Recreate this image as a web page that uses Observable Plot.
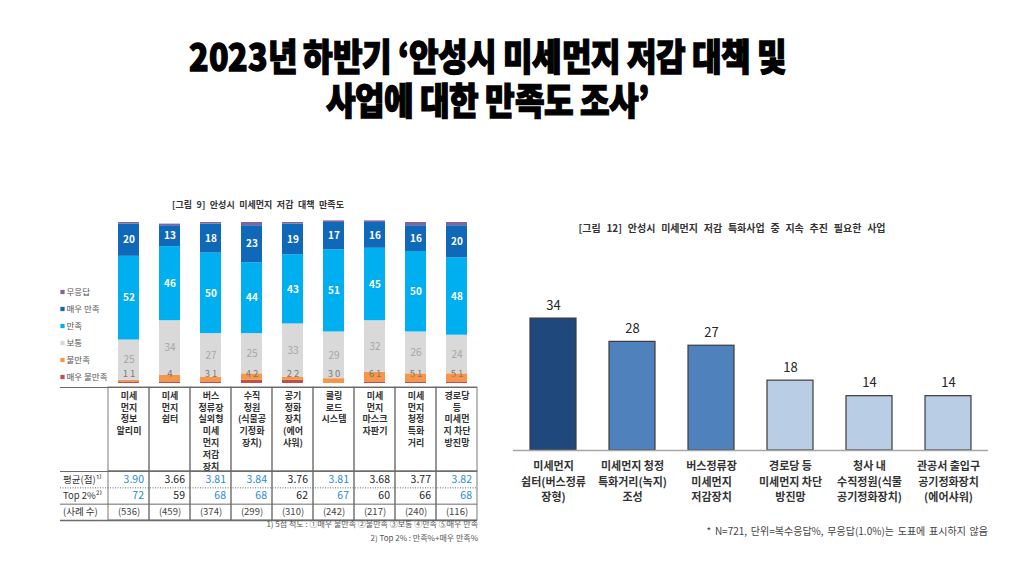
<!DOCTYPE html>
<html><head><meta charset="utf-8">
<script src="https://cdn.jsdelivr.net/npm/d3@7"></script>
<script src="https://cdn.jsdelivr.net/npm/@observablehq/plot@0.6"></script>
<style>
@font-face{font-family:"TitleKR";src:local("Noto Sans CJK KR Black"),local("NotoSansCJKkr-Black"),local("Noto Sans CJK KR Bold"),local("NotoSansCJKkr-Bold");ascent-override:88%;descent-override:12%;line-gap-override:0%;}
html,body{margin:0;padding:0;background:#fff;}
body{width:1024px;height:576px;position:relative;overflow:hidden;font-family:"Noto Sans CJK KR","Noto Sans",sans-serif;}
.abs{position:absolute;}
.title{left:0;width:975px;height:42px;text-align:center;font-family:"TitleKR","Noto Sans CJK KR",sans-serif;font-weight:900;font-size:37px;line-height:42px;color:#000;letter-spacing:-0.4px;transform:scaleX(0.87);transform-origin:487.5px 0;-webkit-text-stroke:1.3px #000;white-space:nowrap;}
.ctitle{font-weight:700;color:#333;white-space:nowrap;text-align:center;}
.note{color:#555;white-space:nowrap;text-align:right;}
</style></head><body>
<div class="abs title" style="top:36px;">2023년 하반기 ‘안성시 미세먼지 저감 대책 및</div>
<div class="abs title" style="top:80px;">사업에 대한 만족도 조사’</div>
<div class="abs ctitle" style="left:158px;width:200px;top:198px;font-size:9px;word-spacing:2.5px;">[그림 9] 안성시 미세먼지 저감 대책 만족도</div>
<div class="abs ctitle" style="left:532px;width:400px;top:220px;font-size:10px;word-spacing:3.5px;">[그림 12] 안성시 미세먼지 저감 특화사업 중 지속 추진 필요한 사업</div>
<div id="barA" class="abs" style="left:60px;top:195px;"></div>
<div id="legA" class="abs" style="left:58px;top:282px;"></div>
<div id="tabH" class="abs" style="left:60px;top:386px;"></div>
<div id="tabR" class="abs" style="left:60px;top:470px;"></div>
<div class="abs note" style="right:546px;top:518px;font-size:8px;">1) 5점 척도 : ①매우 불만족 ②불만족 ③보통 ④만족 ⑤매우 만족</div>
<div class="abs note" style="right:546px;top:532px;font-size:8px;">2) Top 2% : 만족%+매우 만족%</div>
<div id="barB" class="abs" style="left:500px;top:200px;"></div>
<div class="abs note" style="right:36px;top:523px;font-size:10px;word-spacing:1.5px;color:#444;">* N=721, 단위=복수응답%, 무응답(1.0%)는 도표에 표시하지 않음</div>
<script>
// ---------- Data: 그림 9 ----------
const satCats = ["미세먼지 정보알리미","미세먼지 쉼터","버스정류장 실외형 미세먼지 저감장치","수직정원(식물공기정화장치)","공기정화장치(에어샤워)","쿨링로드 시스템","미세먼지 마스크 자판기","미세먼지 청정특화거리","경로당 등 미세먼지 차단 방진망"];
const tableHeaders = ["미세\n먼지\n정보\n알리미","미세\n먼지\n쉼터","버스\n정류장\n실외형\n미세\n먼지\n저감\n장치","수직\n정원\n(식물공\n기정화\n장치)","공기\n정화\n장치\n(에어\n샤워)","쿨링\n로드\n시스템","미세\n먼지\n마스크\n자판기","미세\n먼지\n청정\n특화\n거리","경로당\n등\n미세먼\n지 차단\n방진망"];
const levelsStack = ["매우 불만족","불만족","보통","만족","매우 만족","무응답"];
const veryDissat = [1,1,1,2,2,0,1,1,1];
const dissat     = [1,4,3,4,2,3,6,5,5];
const neutral    = [25,34,27,25,33,29,32,26,24];
const sat        = [52,46,50,44,43,51,45,50,48];
const verySat    = [20,13,18,23,19,17,16,16,20];
const noAnswer   = [1,1,1,2,1,1,1,2,2];
const smallLabels = ["1 1","4","3 1","4 2","2 2","3 0","6 1","5 1","5 1"];
const rowLabels = ["평균(점)¹⁾","Top 2%²⁾","(사례 수)"];
const avgScore = [3.90,3.66,3.81,3.84,3.76,3.81,3.68,3.77,3.82];
const top2 = [72,59,68,68,62,67,60,66,68];
const sampleN = [536,459,374,299,310,242,217,240,116];
// ---------- Data: 그림 12 ----------
const needCats = ["미세먼지\n쉼터(버스정류\n장형)","미세먼지 청정\n특화거리(녹지)\n조성","버스정류장\n미세먼지\n저감장치","경로당 등\n미세먼지 차단\n방진망","청사 내\n수직정원(식물\n공기정화장치)","관공서 출입구\n공기정화장치\n(에어샤워)"];
const needValues = [34,28,27,18,14,14];

// ---------- Styles ----------
const FONT = '"Noto Sans CJK KR","Noto Sans",sans-serif';
const legendOrder = levelsStack.slice().reverse();
const legendColors = ["#8064a2","#1068b8","#00aff0","#d9d9d9","#f79646","#c0504d"];
const LINE = "#6b6b6b";
const BLUE = "#2a8ad4";
const base = {style:{background:"transparent",fontFamily:FONT,overflow:"hidden"}};

const series = [veryDissat, dissat, neutral, sat, verySat, noAnswer];
const long = levelsStack.flatMap((lv, j) => satCats.map((c, i) => ({cat:c, level:lv, value:series[j][i]})));
const xBand = {domain: satCats, axis: null};

// Bars (그림 9)
const barA = Plot.plot({...base,
  width:430, height:195, marginLeft:47.5, marginRight:13, marginTop:27, marginBottom:7,
  x:{...xBand, paddingInner:0.5, paddingOuter:0.25},
  y:{domain:[0,100], axis:null},
  color:{domain:legendOrder, range:legendColors},
  marks:[
    Plot.barY(long, {x:"cat", y:"value", fill:"level", z:"level", order:levelsStack}),
    Plot.text(long, Plot.stackY({x:"cat", y:"value", z:"level", order:levelsStack,
      text:d => (d.level==="만족"||d.level==="매우 만족") ? String(d.value) : "",
      fill:"white", fontSize:10, fontWeight:600})),
    Plot.text(long, Plot.stackY({x:"cat", y:"value", z:"level", order:levelsStack,
      text:d => d.level==="보통" ? String(d.value) : "",
      fill:"#a6a6a6", fontSize:10})),
    Plot.text(smallLabels, {x:(d,i)=>satCats[i], text:d=>d, frameAnchor:"bottom", dy:-7, fill:"#7a7a7a", fontSize:9.5})
  ]});
document.getElementById("barA").append(barA);

// Legend (그림 9)
const legA = Plot.plot({...base,
  width:62, height:103, margin:0,
  y:{type:"band", domain:legendOrder, padding:0, axis:null},
  color:{domain:legendOrder, range:legendColors},
  marks:[
    Plot.dot(legendOrder, {y:d=>d, fill:d=>d, symbol:"square", r:2.4, frameAnchor:"left", dx:4}),
    Plot.text(legendOrder, {y:d=>d, text:d=>d, frameAnchor:"left", textAnchor:"start", dx:8, fontSize:8.5, fill:"#555"})
  ]});
document.getElementById("legA").append(legA);

// Table header
const tabH = Plot.plot({...base,
  width:430, height:86, marginLeft:47.5, marginRight:13, marginTop:1, marginBottom:1,
  x:{...xBand, padding:0},
  y:{domain:[0,1], axis:null},
  marks:[
    Plot.ruleY([0,1], {stroke:LINE, strokeWidth:1, insetLeft:-50}),
    Plot.cell(satCats, {x:d=>d, fill:"none", stroke:LINE, strokeWidth:0.9}),
    Plot.text(satCats, {x:d=>d, text:(d,i)=>tableHeaders[i], frameAnchor:"top", lineAnchor:"top", dy:3,
      fontSize:9, fontWeight:700, lineHeight:1.31, fill:"#333"})
  ]});
document.getElementById("tabH").append(tabH);

// Table rows
const rowValues = [avgScore.map(v=>v.toFixed(2)), top2.map(String), sampleN.map(v=>`(${v})`)];
const tableCells = rowLabels.flatMap((r, ri) => satCats.map((c, i) => ({cat:c, row:ri, text:rowValues[ri][i], hl: ri<2 && avgScore[i] >= 3.8})));
const bounds = d3.range(rowLabels.length + 1);
const tabR = Plot.plot({...base,
  width:430, height:52, marginLeft:47.5, marginRight:13, marginTop:1, marginBottom:2,
  x:{...xBand, padding:0},
  y:{domain:[0,rowLabels.length], reverse:true, axis:null},
  marks:[
    Plot.cell(satCats, {x:d=>d, fill:"none", stroke:LINE, strokeWidth:0.9}),
    Plot.ruleY(bounds.filter(b => b!==1 && b!==rowLabels.length), {stroke:LINE, insetLeft:-50}),
    Plot.ruleY([rowLabels.length], {stroke:LINE, strokeWidth:1.6, insetLeft:-50}),
    Plot.ruleY([1], {stroke:LINE, strokeDasharray:"1,1.5", insetLeft:-50}),
    Plot.text(rowLabels, {y:(d,i)=>i+0.5, text:d=>d, frameAnchor:"left", textAnchor:"start", dx:-45, fontSize:9.5, fill:"#333"}),
    Plot.text(tableCells, {filter:d=>d.row<2 && d.hl, x:"cat", y:d=>d.row+0.5, text:"text", textAnchor:"end", dx:15, fontSize:10.5, fill:BLUE}),
    Plot.text(tableCells, {filter:d=>d.row<2 && !d.hl, x:"cat", y:d=>d.row+0.5, text:"text", textAnchor:"end", dx:15, fontSize:10.5, fill:"#222"}),
    Plot.text(tableCells, {filter:d=>d.row===2, x:"cat", y:d=>d.row+0.5, text:"text", fontSize:9.5, fill:"#444"})
  ]});
document.getElementById("tabR").append(tabR);

// 그림 12
const needData = needCats.map((c,i)=>({cat:c, value:needValues[i]}));
const barB = Plot.plot({...base,
  width:524, height:350, marginLeft:13, marginRight:36, marginTop:94.8, marginBottom:100,
  x:{domain:needCats, paddingInner:0.418, paddingOuter:0.215, axis:null},
  y:{domain:[0,40], axis:null},
  color:{type:"threshold", domain:[20,30], range:["#b9cde5","#4f81bd","#1f497d"]},
  marks:[
    Plot.barY(needData, {x:"cat", y:"value", fill:"value", stroke:"#3b3b3b", strokeWidth:1.2}),
    Plot.ruleY([0], {stroke:"#a6a6a6", strokeWidth:1.3}),
    Plot.text(needData, {x:"cat", y:"value", text:d=>String(d.value), dy:-13, fontSize:13, fill:"#262626"}),
    Plot.text(needData, {x:"cat", text:"cat", frameAnchor:"bottom", lineAnchor:"top", dy:9, fontSize:11, fontWeight:700, lineHeight:1.4, fill:"#333"})
  ]});
document.getElementById("barB").append(barB);
</script>
</body></html>
